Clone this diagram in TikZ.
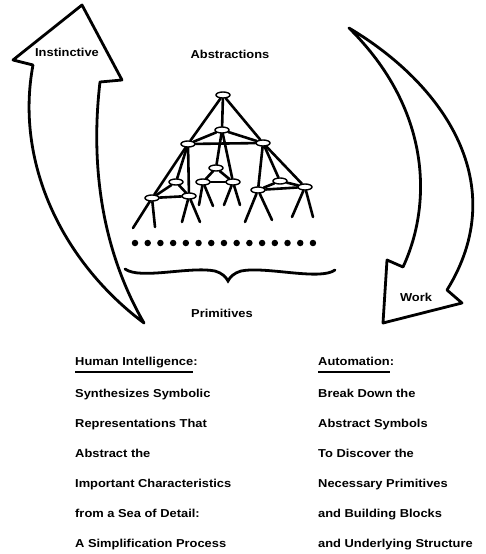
\documentclass[tikz,border=0pt]{standalone}
\usepackage{fontspec}
\newfontfamily\lab[FakeStretch=1.12]{Liberation Sans}
\usetikzlibrary{shapes.geometric,backgrounds}
\begin{document}
\begin{tikzpicture}[x=1pt,y=-1pt,
  txt/.style={font=\lab\bfseries\fontsize{11.5}{13}\selectfont, inner sep=0pt},
  col/.style={txt, anchor=base west},
  tn/.style={ellipse, draw, fill=white, line width=1.4pt, minimum width=14pt, minimum height=6pt, inner sep=0pt},
  edge/.style={line width=2.6pt, line cap=round},
  arrowshape/.style={line width=2.8pt, line join=round, fill=white},
  dotnode/.style={circle, fill=black, inner sep=0pt, minimum size=6.5pt},
  uline/.style={line width=2.2pt}
]
\useasboundingbox (0,0) rectangle (485,554);
\begin{scope}[on background layer]
\fill[white] (0,0) rectangle (485,554);
\end{scope}

% big curved arrows
\draw[arrowshape] (82,5) -- (122,80) -- (100,82)
  .. controls (92,150) and (96,240) .. (144,323)
  .. controls (60,260) and (15,160) .. (33,65) -- (13,60) -- cycle;
\draw[arrowshape] (349,28) .. controls (445,85) and (512,185) .. (447,290)
  -- (462,303) -- (383,323) -- (387,260) -- (403,267)
  .. controls (432,205) and (432,110) .. cycle;

% labels
\node[txt] (instinct) at (67,52) {Instinctive};
\node[txt] (abs) at (230,54) {Abstractions};
\node[txt] (prim) at (222,313) {Primitives};
\node[txt] (work) at (416,297) {Work};

% tree nodes
\node[tn] (T) at (223,95) {};
\node[tn] (M) at (222,130) {};
\node[tn] (L1) at (188,144) {};
\node[tn] (R1) at (263,143) {};
\node[tn] (C2) at (216,168) {};
\node[tn] (LM) at (176,182) {};
\node[tn] (LL) at (152,198) {};
\node[tn] (L2) at (189,196) {};
\node[tn] (C3a) at (203,182) {};
\node[tn] (C3b) at (233,182) {};
\node[tn] (R2) at (280,181) {};
\node[tn] (R3a) at (258,190) {};
\node[tn] (R3b) at (305,187) {};

% leg end points
\coordinate (LLa) at (133,228);
\coordinate (LLb) at (155,227);
\coordinate (L2a) at (182,222);
\coordinate (L2b) at (200,222);
\coordinate (C3aa) at (199,205);
\coordinate (C3ab) at (213,206);
\coordinate (C3ba) at (224,205);
\coordinate (C3bb) at (240,205);
\coordinate (R3aa) at (245,222);
\coordinate (R3ab) at (272,220);
\coordinate (R3ba) at (292,217);
\coordinate (R3bb) at (313,217);

\begin{scope}[on background layer]
\draw[edge] (T) -- (L1);
\draw[edge] (T) -- (R1);
\draw[edge] (T) -- (M);
\draw[edge] (M) -- (L1);
\draw[edge] (M) -- (R1);
\draw[edge] (L1) -- (R1);
\draw[edge] (M) -- (C2);
\draw[edge] (M) -- (C3b);
\draw[edge] (C2) -- (C3a);
\draw[edge] (C2) -- (C3b);
\draw[edge] (C3a) -- (C3b);
\draw[edge] (L1) -- (LL);
\draw[edge] (L1) -- (LM);
\draw[edge] (L1) -- (L2);
\draw[edge] (LM) -- (LL);
\draw[edge] (LM) -- (L2);
\draw[edge] (LL) -- (L2);
\draw[edge] (R1) -- (R3a);
\draw[edge] (R1) -- (R2);
\draw[edge] (R1) -- (R3b);
\draw[edge] (R2) -- (R3a);
\draw[edge] (R2) -- (R3b);
\draw[edge] (R3a) -- (R3b);
\draw[edge] (LL) -- (LLa);
\draw[edge] (LL) -- (LLb);
\draw[edge] (L2) -- (L2a);
\draw[edge] (L2) -- (L2b);
\draw[edge] (C3a) -- (C3aa);
\draw[edge] (C3a) -- (C3ab);
\draw[edge] (C3b) -- (C3ba);
\draw[edge] (C3b) -- (C3bb);
\draw[edge] (R3a) -- (R3aa);
\draw[edge] (R3a) -- (R3ab);
\draw[edge] (R3b) -- (R3ba);
\draw[edge] (R3b) -- (R3bb);
\end{scope}

% primitives row
\foreach \i in {0,...,14} \node[dotnode] (d\i) at ({135+\i*12.71},243) {};

% brace
\draw[line width=2.8pt, line cap=round]
  (125,269) .. controls (140,280) and (190,266) .. (215,271)
  .. controls (222,273) and (226,277) .. (228,281)
  .. controls (230,277) and (234,273) .. (241,271)
  .. controls (266,266) and (320,281) .. (335,270);

% left column
\node[col] (h1) at (75,365) {Human Intelligence\rlap{:}};
\draw[uline] ([yshift=-7pt]h1.base west) -- ([yshift=-7pt]h1.base east);
\node[col] (a1) at (75,397) {Synthesizes Symbolic};
\node[col] (a2) at (75,427) {Representations That};
\node[col] (a3) at (75,457) {Abstract the};
\node[col] (a4) at (75,487) {Important Characteristics};
\node[col] (a5) at (75,517) {from a Sea of Detail:};
\node[col] (a6) at (75,547) {A Simplification Process};

% right column
\node[col] (h2) at (318,365) {Automation\rlap{:}};
\draw[uline] ([yshift=-7pt]h2.base west) -- ([yshift=-7pt]h2.base east);
\node[col] (b1) at (318,397) {Break Down the};
\node[col] (b2) at (318,427) {Abstract Symbols};
\node[col] (b3) at (318,457) {To Discover the};
\node[col] (b4) at (318,487) {Necessary Primitives};
\node[col] (b5) at (318,517) {and Building Blocks};
\node[col] (b6) at (318,547) {and Underlying Structure};
\end{tikzpicture}
\end{document}
